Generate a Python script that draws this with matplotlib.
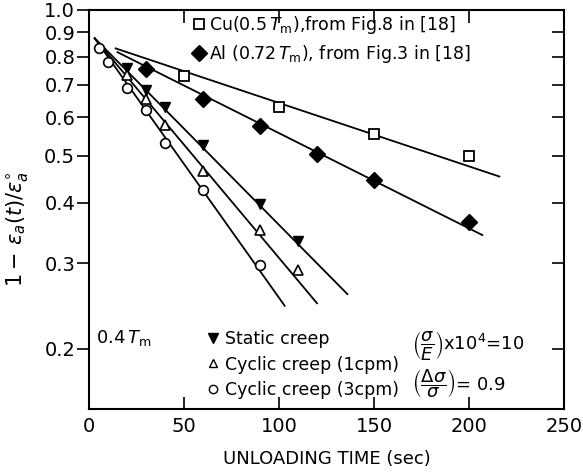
import matplotlib
matplotlib.use("Agg")
import matplotlib.pyplot as plt
from matplotlib.lines import Line2D

# data (time in sec, 1 - ea(t)/ea0)
cu_t = [50, 100, 150, 200]
cu_v = [0.73, 0.63, 0.555, 0.50]
al_t = [30, 60, 90, 120, 150, 200]
al_v = [0.757, 0.656, 0.576, 0.503, 0.445, 0.365]
static_t = [20, 30, 40, 60, 90, 110]
static_v = [0.76, 0.685, 0.63, 0.527, 0.398, 0.333]
cyc1_t = [20, 30, 40, 60, 90, 110]
cyc1_v = [0.735, 0.655, 0.58, 0.464, 0.351, 0.29]
cyc3_t = [5, 10, 20, 30, 40, 60, 90]
cyc3_v = [0.835, 0.78, 0.69, 0.622, 0.531, 0.424, 0.297]

# fitted straight lines, end points
cu_line_t = [14, 216]
cu_line_v = [0.833, 0.453]
al_line_t = [15, 207]
al_line_v = [0.818, 0.343]
static_line_t = [3, 136]
static_line_v = [0.874, 0.259]
cyc1_line_t = [3, 120]
cyc1_line_v = [0.874, 0.248]
cyc3_line_t = [3, 103]
cyc3_line_v = [0.874, 0.245]

yticks = [0.2, 0.3, 0.4, 0.5, 0.6, 0.7, 0.8, 0.9, 1.0]
xticks = [0, 50, 100, 150, 200, 250]

plt.rcParams["font.family"] = "DejaVu Sans"
plt.rcParams["mathtext.fontset"] = "dejavusans"

fig = plt.figure(figsize=(5.83, 4.74), dpi=100)
ax = fig.add_axes([0.1527, 0.1371, 0.8147, 0.8419])

lw = 1.3
for t, v in [(cu_line_t, cu_line_v), (al_line_t, al_line_v),
             (static_line_t, static_line_v), (cyc1_line_t, cyc1_line_v),
             (cyc3_line_t, cyc3_line_v)]:
    ax.plot(t, v, color="black", lw=lw)

ax.plot(cu_t, cu_v, "s", ms=7, mfc="white", mec="black", mew=1.3)
ax.plot(al_t, al_v, "D", ms=8, mfc="black", mec="black")
ax.plot(static_t, static_v, "v", ms=7, mfc="black", mec="black")
ax.plot(cyc1_t, cyc1_v, "^", ms=7, mfc="white", mec="black", mew=1.2)
ax.plot(cyc3_t, cyc3_v, "o", ms=7, mfc="white", mec="black", mew=1.2)

ax.set_yscale("log")
ax.set_xlim(0, 250)
ax.set_ylim(0.15, 1.0)
ax.set_yticks(yticks)
ax.set_yticklabels([f"{v:.1f}" for v in yticks])
ax.yaxis.set_minor_locator(matplotlib.ticker.NullLocator())
ax.set_xticks(xticks)
ax.set_xticklabels([str(v) for v in xticks])

ax.tick_params(axis="y", which="major", left=True, right=True, direction="out",
               length=9, width=1.2, labelsize=14, pad=1)
ax.tick_params(axis="x", which="major", top=True, bottom=True, direction="in",
               length=9, width=1.2, labelsize=14, pad=6)
# right-side ticks point inward
for tk in ax.yaxis.get_major_ticks():
    tk.tick2line.set_marker(matplotlib.lines.TICKLEFT)
for sp in ax.spines.values():
    sp.set_linewidth(1.5)

ax.set_xlabel("UNLOADING TIME (sec)", fontsize=13, labelpad=10)
ax.set_ylabel(r"$1-\,\epsilon_a(t)/\epsilon_a^{\circ}$", fontsize=15, labelpad=4)
ax.yaxis.set_label_coords(-0.125, 0.45)

# top legend
h1 = [Line2D([], [], ls="none", marker="s", ms=7, mfc="white", mec="black", mew=1.3),
      Line2D([], [], ls="none", marker="D", ms=8, mfc="black", mec="black")]
lab1 = [r"Cu$(0.5\,T_{\rm m})$,from Fig.8 in [18]",
        r"Al $(0.72\,T_{\rm m})$, from Fig.3 in [18]"]
leg1 = ax.legend(h1, lab1, loc="upper left", bbox_to_anchor=(0.195, 1.02),
                 frameon=False, fontsize=12.5, handlelength=0.6, handletextpad=0.3,
                 labelspacing=0.4, borderpad=0.2)
ax.add_artist(leg1)

# lower legend
h2 = [Line2D([], [], ls="none", marker="v", ms=7, mfc="black", mec="black"),
      Line2D([], [], ls="none", marker="^", ms=6, mfc="white", mec="black"),
      Line2D([], [], ls="none", marker="o", ms=6, mfc="white", mec="black")]
lab2 = ["Static creep", "Cyclic creep (1cpm)", "Cyclic creep (3cpm)"]
ax.legend(h2, lab2, loc="lower left", bbox_to_anchor=(0.225, -0.005),
          frameon=False, fontsize=12.5, handlelength=0.6, handletextpad=0.4,
          labelspacing=0.42, borderpad=0.2)

ax.text(0.015, 0.165, r"0.4$\,T_{\rm m}$", transform=ax.transAxes, fontsize=13)
ax.text(0.68, 0.16, r"$\left(\dfrac{\sigma}{E}\right)$x$10^4$=10",
        transform=ax.transAxes, fontsize=13, va="center")
ax.text(0.68, 0.065, r"$\left(\dfrac{\Delta\sigma}{\sigma}\right)$= 0.9",
        transform=ax.transAxes, fontsize=13, va="center")

fig.savefig("out.png", dpi=100)
